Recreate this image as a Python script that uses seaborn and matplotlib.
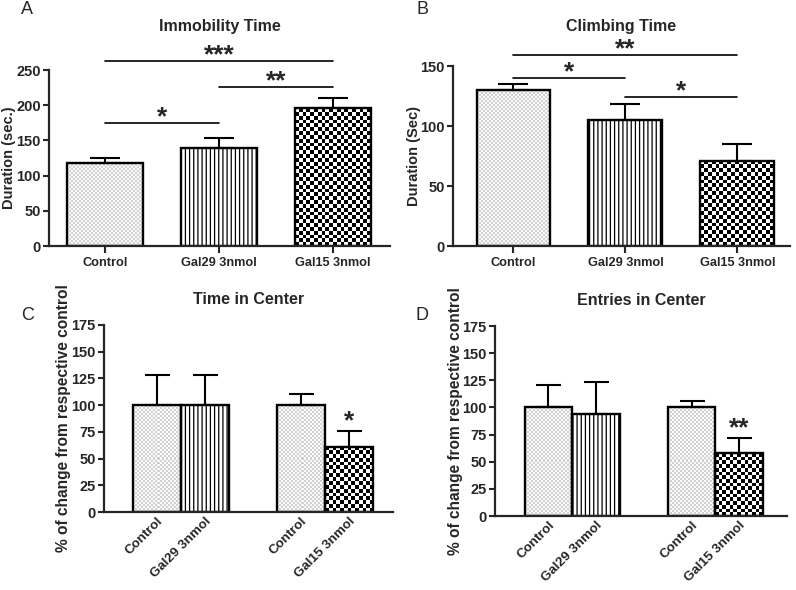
import numpy as np
import pandas as pd
import matplotlib
matplotlib.use('Agg')
import matplotlib.pyplot as plt
import seaborn as sns

# Data
groups_ab = ['Control', 'Gal29 3nmol', 'Gal15 3nmol']
immobility_mean = [118, 139, 196]
immobility_sem = [7, 15, 14]
climbing_mean = [130, 105, 71]
climbing_sem = [5, 13, 14]

groups_cd = ['Control', 'Gal29 3nmol', 'Control', 'Gal15 3nmol']
center_time_mean = [100, 100, 100, 61]
center_time_sem = [28, 28, 10, 15]
center_entries_mean = [100, 94, 100, 58]
center_entries_sem = [21, 29, 6, 14]

# significance: (from bar, to bar, height, label)
immobility_sig = [(0, 1, 175, '*'), (1, 2, 226, '**'), (0, 2, 263, '***')]
climbing_sig = [(0, 1, 140, '*'), (1, 2, 124, '*'), (0, 2, 159, '**')]
center_time_star = (3, 80, '*')
center_entries_star = (3, 76, '**')

sns.set_style('ticks')
plt.rcParams['font.family'] = ['Liberation Sans', 'DejaVu Sans']
plt.rcParams['font.weight'] = 'bold'
plt.rcParams['axes.labelweight'] = 'bold'
plt.rcParams['axes.titleweight'] = 'bold'
plt.rcParams['hatch.linewidth'] = 0.9

W, H = 796, 590
fig = plt.figure(figsize=(W / 100, H / 100), dpi=100)


def px_axes(x0, y0, x1, y1):
    return fig.add_axes([x0 / W, 1 - y1 / H, (x1 - x0) / W, (y1 - y0) / H])


def texture(ax, patch, kind):
    bb = patch.get_window_extent()
    x0, w, h = patch.get_x(), patch.get_width(), patch.get_height()
    if kind == 'checker':
        nx = max(1, int(round(bb.width / 3.8)))
        ny = max(1, int(round(bb.height / 3.8)))
        arr = (np.add.outer(np.arange(ny), np.arange(nx)) % 2).astype(float)
    else:
        nx = max(1, int(round(bb.width / 2)))
        ny = max(1, int(round(bb.height / 2)))
        arr = np.where(np.add.outer(np.arange(ny), np.arange(nx)) % 2 == 0, 0.82, 0.98)
    im = ax.imshow(arr, extent=(x0, x0 + w, 0, h), origin='lower', cmap='gray',
                   vmin=0, vmax=1, interpolation='nearest', aspect='auto',
                   zorder=patch.get_zorder() - 0.1)
    im.set_clip_path(patch)


def style_axes(ax):
    sns.despine(ax=ax)
    for s in ['left', 'bottom']:
        ax.spines[s].set_linewidth(1.6)
    ax.tick_params(axis='both', width=1.5, length=4)
    ax.tick_params(axis='y', labelsize=10.5, pad=2)


def draw_bars(ax, x, means, sems, kinds, width, xlim, ylim, capsize, native=False):
    sns.barplot(x=x, y=means, native_scale=native, width=width, color='white',
                edgecolor='black', linewidth=1.7, errorbar=None, ax=ax)
    ax.set_xlim(*xlim)
    ax.set_ylim(*ylim)
    bars = ax.containers[0].patches if ax.containers else ax.patches
    pos = [p.get_x() + p.get_width() / 2 for p in bars]
    for p, k in zip(bars, kinds):
        p.set_facecolor('none')
        p.set_zorder(2)
        if k == 'stripes':
            p.set_hatch('||||')
        else:
            texture(ax, p, k)
    ax.errorbar(pos, means, yerr=[np.zeros(len(means)), sems], fmt='none',
                ecolor='black', elinewidth=1.5, capsize=capsize, capthick=1.5, zorder=3)
    ax.set_xlim(*xlim)
    ax.set_ylim(*ylim)
    return pos


def star(ax, x, y, lab):
    ax.annotate(lab, (x, y), xytext=(0, -1), textcoords='offset points',
                ha='center', va='baseline', fontsize=19, annotation_clip=False)


def sig_lines(ax, pos, sigs):
    for i, j, y, lab in sigs:
        ax.plot([pos[i], pos[j]], [y, y], color='black', lw=1.2, clip_on=False)
        star(ax, (pos[i] + pos[j]) / 2, y, lab)


kinds_ab = ['dots', 'stripes', 'checker']
kinds_cd = ['dots', 'stripes', 'dots', 'checker']

# A
axA = px_axes(49, 70, 390, 246)
posA = draw_bars(axA, groups_ab, immobility_mean, immobility_sem, kinds_ab, 0.66,
                 (-0.49, 2.5), (0, 250), 10.5)
sig_lines(axA, posA, immobility_sig)
axA.set_yticks(range(0, 251, 50))
axA.set_ylabel('Duration (sec.)', fontsize=10.5)
axA.yaxis.set_label_coords(-0.097, 0.5)
axA.set_title('Immobility Time', fontsize=11.5, y=1.25, va='center', pad=0)

# B
axB = px_axes(453, 66, 790, 246)
posB = draw_bars(axB, groups_ab, climbing_mean, climbing_sem, kinds_ab, 0.66,
                 (-0.54, 2.47), (0, 150), 10.5)
sig_lines(axB, posB, climbing_sig)
axB.set_yticks(range(0, 151, 50))
axB.set_ylabel('Duration (Sec)', fontsize=10.5)
axB.yaxis.set_label_coords(-0.095, 0.5)
axB.set_title('Climbing Time', fontsize=11.5, y=1.22, va='center', pad=0)

for ax in (axA, axB):
    style_axes(ax)
    ax.tick_params(axis='x', labelsize=9.2, pad=3, length=5)

# C and D
x_cd = [0, 1, 3, 4]
axC = px_axes(104, 325, 393, 512)
posC = draw_bars(axC, x_cd, center_time_mean, center_time_sem, kinds_cd, 1.0,
                 (-1.1, 4.92), (0, 175), 9, native=True)
axD = px_axes(495, 326, 787, 516)
posD = draw_bars(axD, x_cd, center_entries_mean, center_entries_sem, kinds_cd, 1.0,
                 (-1.12, 5.0), (0, 175), 9, native=True)

for ax, pos, st, title in [(axC, posC, center_time_star, 'Time in Center'),
                           (axD, posD, center_entries_star, 'Entries in Center')]:
    style_axes(ax)
    ax.set_yticks(range(0, 176, 25))
    ax.set_xticks(pos)
    ax.set_xticklabels(groups_cd, rotation=45, ha='right', rotation_mode='anchor', fontsize=9.6)
    ax.tick_params(axis='x', length=0, pad=2)
    ax.set_ylabel('% of change from respective control', fontsize=11.2)
    ax.set_title(title, fontsize=11.5, y=1.135, va='center', pad=0)
    i, y, lab = st
    star(ax, pos[i], y, lab)
axC.yaxis.set_label_coords(-0.114, 0.5)
axD.yaxis.set_label_coords(-0.11, 0.5)

# panel letters
for lab, x, y in [('A', 27, 10), ('B', 423, 10), ('C', 28, 315), ('D', 422, 315)]:
    fig.text(x / W, 1 - y / H, lab, ha='center', va='center', fontsize=13,
             fontweight='normal')

fig.savefig('out.png', dpi=100)
